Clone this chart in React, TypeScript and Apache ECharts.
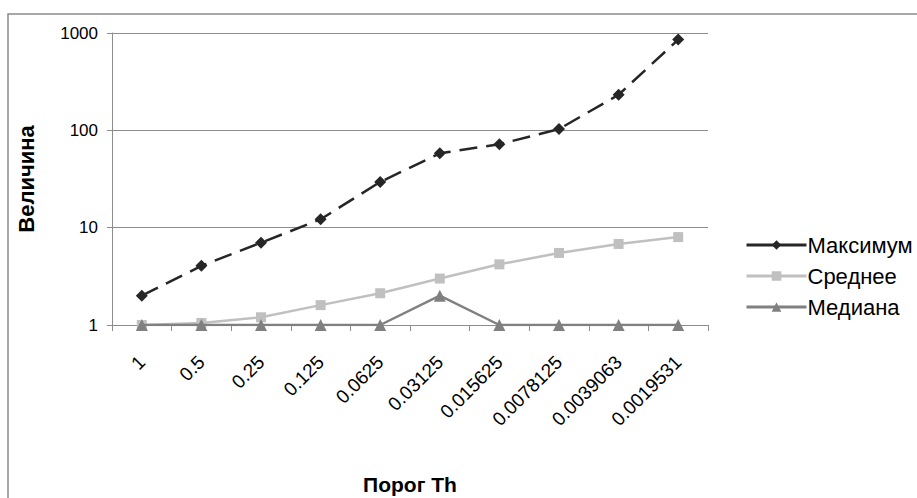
import React, { useEffect, useRef } from "react";
import * as echarts from "echarts";

const categories = ["1", "0.5", "0.25", "0.125", "0.0625", "0.03125", "0.015625", "0.0078125", "0.0039063", "0.0019531"];
const maxValues = [2, 4.05, 7, 12.2, 29.5, 58, 72, 103, 232, 855];
const meanValues = [1, 1.05, 1.2, 1.6, 2.12, 3, 4.2, 5.5, 6.8, 8];
const medianValues = [1, 1, 1, 1, 1, 2, 1, 1, 1, 1];
const seriesNames = ["Максимум", "Среднее", "Медиана"];
const xTitle = "Порог Th";
const yTitle = "Величина";

export default function App() {
  const ref = useRef<HTMLDivElement>(null);
  useEffect(() => {
    if (!ref.current) return;
    const chart = echarts.init(ref.current, null, { renderer: "svg" });
    const font = "'Liberation Sans', Arial, sans-serif";
    chart.setOption({
      animation: false,
      backgroundColor: "#ffffff",
      textStyle: { fontFamily: font },
      grid: { left: 112, top: 33, right: 209, bottom: 173, containLabel: false },
      graphic: [
        {
          type: "rect",
          shape: { x: 8, y: 14, width: 1000, height: 1000 },
          style: { fill: "none", stroke: "#8c8c8c", lineWidth: 1.5 },
          silent: true,
        },
        {
          type: "text",
          x: 410,
          y: 484,
          style: { text: xTitle, font: `bold 21px ${font}`, fill: "#000", align: "center", verticalAlign: "middle" },
        },
      ],
      legend: {
        orient: "vertical",
        left: 740,
        top: 229,
        itemWidth: 60,
        itemHeight: 12,
        itemGap: 9,
        textStyle: { fontSize: 22, color: "#000", fontFamily: font, padding: [0, 0, 0, -4] },
        data: [
          { name: seriesNames[0], lineStyle: { type: "solid", width: 3 } },
          { name: seriesNames[1], lineStyle: { width: 3 } },
          { name: seriesNames[2], lineStyle: { width: 3 } },
        ],
      },
      xAxis: {
        type: "category",
        data: categories,
        boundaryGap: true,
        axisLine: { show: true, onZero: false, lineStyle: { color: "#8c8c8c", width: 1 } },
        axisTick: { show: true, interval: 0, length: 6, lineStyle: { color: "#8c8c8c" } },
        axisLabel: { interval: 0, rotate: 45, fontSize: 19, color: "#000", margin: 34, fontFamily: font },
        splitLine: { show: false },
      },
      yAxis: {
        type: "log",
        logBase: 10,
        min: 1,
        max: 1000,
        name: yTitle,
        nameLocation: "middle",
        nameRotate: 90,
        nameGap: 75,
        nameTextStyle: { fontSize: 22, fontWeight: "bold", color: "#000", fontFamily: font },
        axisLine: { show: true, lineStyle: { color: "#8c8c8c", width: 1 } },
        axisTick: { show: true, length: 5, lineStyle: { color: "#8c8c8c" } },
        axisLabel: {
          fontSize: 17,
          color: "#000",
          margin: 14,
          fontFamily: font,
          formatter: (v: number) => String(Math.round(v)),
        },
        splitLine: { show: true, lineStyle: { color: "#8c8c8c", width: 1 } },
        minorTick: { show: false },
      },
      series: [
        {
          name: seriesNames[0],
          type: "line",
          data: maxValues,
          symbol: "diamond",
          symbolSize: 12,
          color: "#262626",
          lineStyle: { color: "#262626", width: 2.5, type: [18, 9] },
          itemStyle: { color: "#262626" },
          z: 4,
        },
        {
          name: seriesNames[1],
          type: "line",
          data: meanValues,
          symbol: "rect",
          symbolSize: 10,
          color: "#c0c0c0",
          lineStyle: { color: "#c0c0c0", width: 2.5 },
          itemStyle: { color: "#c0c0c0" },
          z: 2,
        },
        {
          name: seriesNames[2],
          type: "line",
          data: medianValues,
          symbol: "triangle",
          symbolSize: 12,
          color: "#808080",
          lineStyle: { color: "#808080", width: 2.5 },
          itemStyle: { color: "#808080" },
          z: 3,
        },
      ],
    });
    return () => chart.dispose();
  }, []);
  return (
    <div
      ref={ref}
      style={{ position: "fixed", left: 0, top: 0, width: 917, height: 498, background: "#fff" }}
    />
  );
}
